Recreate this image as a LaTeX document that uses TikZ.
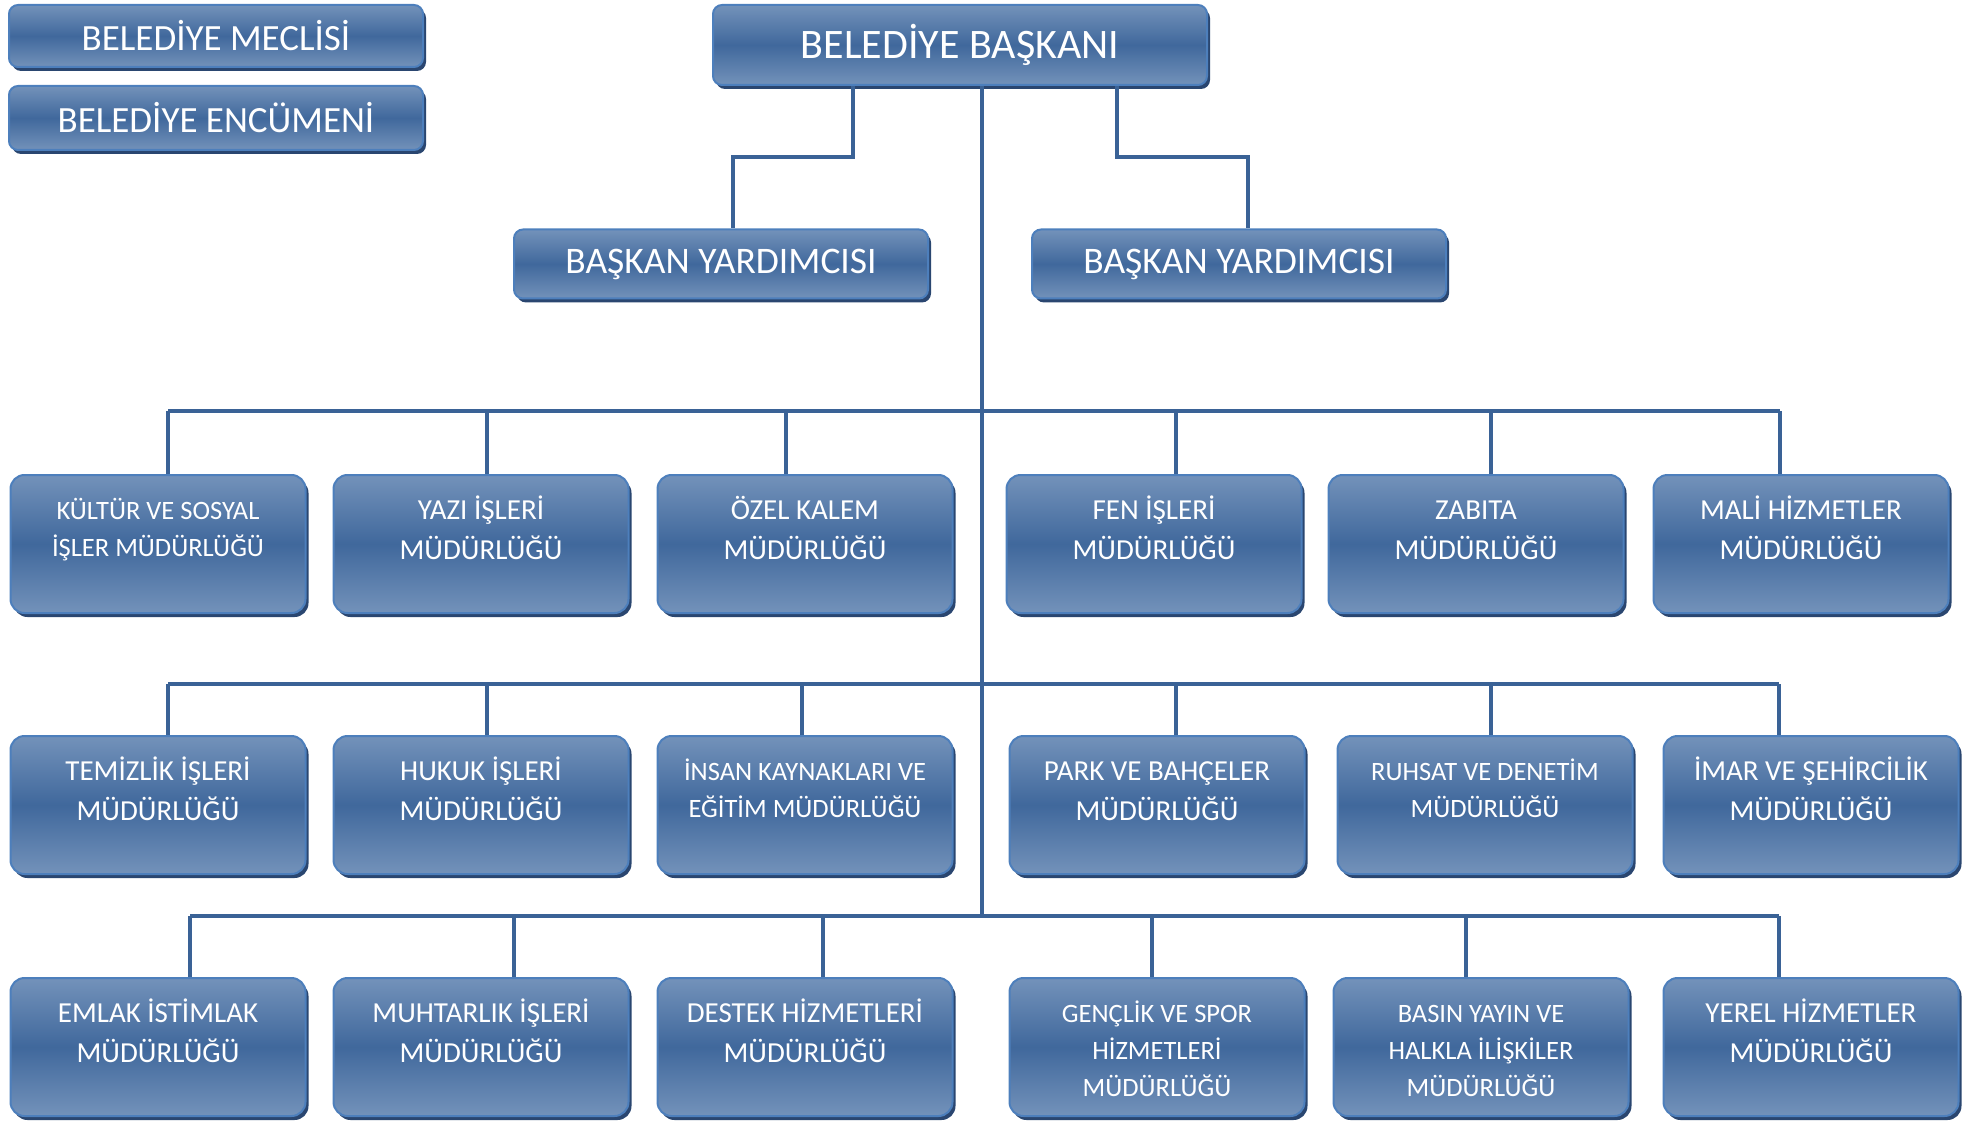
\documentclass[tikz,border=0pt]{standalone}
\usepackage{fontspec}
\setmainfont{Carlito}
\usepackage{xcolor}
\usetikzlibrary{shadows}

\definecolor{acik}{HTML}{7392BA}
\definecolor{koyu}{HTML}{40689C}
\definecolor{kenar}{HTML}{4D7FBC}
\definecolor{golge}{HTML}{2A4670}
\definecolor{hatrenk}{HTML}{3A6296}

\begin{document}
\begin{tikzpicture}[x=1pt, y=-1pt,
    kutu/.style={draw=kenar, line width=2pt, top color=acik, bottom color=acik,
        middle color=koyu, text=white,
        drop shadow={shadow xshift=3pt, shadow yshift=-4pt, fill=golge, opacity=1}},
    baslik/.style={kutu, rounded corners=9pt, inner sep=0pt},
    mudurluk/.style={kutu, rounded corners=14pt, inner xsep=3pt, inner ysep=0pt,
        text width=289pt, align=flush center, text height=44pt, text depth=94pt,
        font=\fontsize{29}{40}\selectfont},
    kucuk/.style={font=\fontsize{26.5}{37}\selectfont},
    hat/.style={draw=hatrenk, line width=4pt}]
    \useasboundingbox (0,0) rectangle (1973,1123);

    % meclis ve encümen
    \node[baslik, minimum width=414pt, minimum height=62pt, font=\fontsize{37}{44}\selectfont]
        (meclis) at (216,36) {BELEDİYE MECLİSİ};
    \node[baslik, minimum width=414pt, minimum height=64pt, font=\fontsize{37}{44}\selectfont]
        (encumen) at (216,118) {BELEDİYE ENCÜMENİ};

    % başkan ve yardımcıları
    \node[baslik, minimum width=494pt, minimum height=80pt, font=\fontsize{42}{50}\selectfont]
        (baskan) at (960,45) {BELEDİYE BAŞKANI};
    \node[baslik, minimum width=414pt, minimum height=69pt, font=\fontsize{37.5}{44}\selectfont]
        (byrd1) at (721,264) {BAŞKAN YARDIMCISI};
    \node[baslik, minimum width=414pt, minimum height=69pt, font=\fontsize{37.5}{44}\selectfont]
        (byrd2) at (1239,264) {BAŞKAN YARDIMCISI};

    % birinci sıra
    \node[mudurluk, kucuk] (k11) at (158,544) {KÜLTÜR VE SOSYAL\\İŞLER MÜDÜRLÜĞÜ};
    \node[mudurluk] (k12) at (481,544) {YAZI İŞLERİ\\MÜDÜRLÜĞÜ};
    \node[mudurluk] (k13) at (805,544) {ÖZEL KALEM\\MÜDÜRLÜĞÜ};
    \node[mudurluk] (k14) at (1154,544) {FEN İŞLERİ\\MÜDÜRLÜĞÜ};
    \node[mudurluk] (k15) at (1476,544) {ZABITA\\MÜDÜRLÜĞÜ};
    \node[mudurluk] (k16) at (1801,544) {MALİ HİZMETLER\\MÜDÜRLÜĞÜ};

    % ikinci sıra
    \node[mudurluk] (k21) at (158,805) {TEMİZLİK İŞLERİ\\MÜDÜRLÜĞÜ};
    \node[mudurluk] (k22) at (481,805) {HUKUK İŞLERİ\\MÜDÜRLÜĞÜ};
    \node[mudurluk, kucuk] (k23) at (805,805) {İNSAN KAYNAKLARI VE\\EĞİTİM MÜDÜRLÜĞÜ};
    \node[mudurluk] (k24) at (1157,805) {PARK VE BAHÇELER\\MÜDÜRLÜĞÜ};
    \node[mudurluk, kucuk] (k25) at (1485,805) {RUHSAT VE DENETİM\\MÜDÜRLÜĞÜ};
    \node[mudurluk] (k26) at (1811,805) {İMAR VE ŞEHİRCİLİK\\MÜDÜRLÜĞÜ};

    % üçüncü sıra
    \node[mudurluk] (k31) at (158,1047) {EMLAK İSTİMLAK\\MÜDÜRLÜĞÜ};
    \node[mudurluk] (k32) at (481,1047) {MUHTARLIK İŞLERİ\\MÜDÜRLÜĞÜ};
    \node[mudurluk] (k33) at (805,1047) {DESTEK HİZMETLERİ\\MÜDÜRLÜĞÜ};
    \node[mudurluk, kucuk] (k34) at (1157,1047) {GENÇLİK VE SPOR\\HİZMETLERİ\\MÜDÜRLÜĞÜ};
    \node[mudurluk, kucuk] (k35) at (1481,1047) {BASIN YAYIN VE\\HALKLA İLİŞKİLER\\MÜDÜRLÜĞÜ};
    \node[mudurluk] (k36) at (1811,1047) {YEREL HİZMETLER\\MÜDÜRLÜĞÜ};

    % başkandan yardımcılara
    \coordinate (s1) at (853,157);
    \coordinate (s2) at (733,157);
    \coordinate (s3) at (1117,157);
    \coordinate (s4) at (1248,157);
    \draw[hat] (baskan.south -| s1) -- (s1) -- (s2) -- (s2 |- byrd1.north);
    \draw[hat] (baskan.south -| s3) -- (s3) -- (s4) -- (s4 |- byrd2.north);

    % ana gövde
    \coordinate (govde) at (982,916);
    \draw[hat] (baskan.south -| govde) -- (govde);

    % sıralara inen hatlar
    \foreach \x/\k [count=\i] in {168/k11, 487/k12, 786/k13, 1176/k14, 1491/k15, 1780/k16} {
        \coordinate (a\i) at (\x,411);
        \draw[hat] (a\i) -- (a\i |- \k.north);
    }
    \draw[hat] (a1) -- (a6);
    \foreach \x/\k [count=\i] in {168/k21, 487/k22, 802/k23, 1176/k24, 1491/k25, 1779/k26} {
        \coordinate (b\i) at (\x,684);
        \draw[hat] (b\i) -- (b\i |- \k.north);
    }
    \draw[hat] (b1) -- (b6);
    \foreach \x/\k [count=\i] in {190/k31, 514/k32, 823/k33, 1152/k34, 1466/k35, 1779/k36} {
        \coordinate (c\i) at (\x,916);
        \draw[hat] (c\i) -- (c\i |- \k.north);
    }
    \draw[hat] (c1) -- (c6);
\end{tikzpicture}
\end{document}
